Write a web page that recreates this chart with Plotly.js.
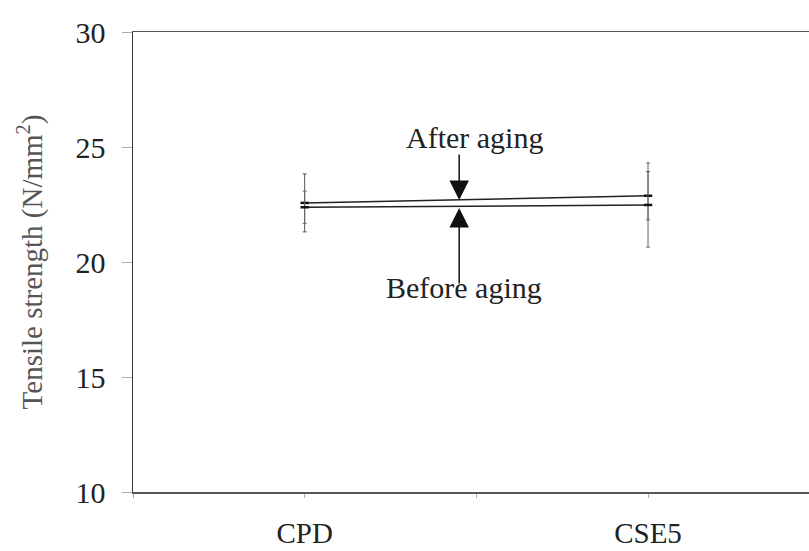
<!DOCTYPE html>
<html>
<head>
<meta charset="utf-8">
<script src="https://cdn.plot.ly/plotly-3.0.1.min.js"></script>
<style>
html,body{margin:0;padding:0;overflow:hidden;background:#fff;width:809px;height:551px;}
#chart{width:830px;height:551px;}
</style>
</head>
<body>
<div id="chart"></div>
<script>
// Data
const categories = ["CPD", "CSE5"];
const categoryPos = [1, 3];
const afterAging = [22.57, 22.88];
const afterErr = [1.26, 1.05];
const beforeAging = [22.38, 22.48];
const beforeErr = [0.7, 1.83];
const yTicks = [10, 15, 20, 25, 30];
const xTickVals = [0, 1, 2, 3, 4];
const xTickText = ["", categories[0], "", categories[1], ""];

const serif = "Liberation Serif, Times New Roman, serif";

const traces = [
  {
    x: categoryPos, y: afterAging, name: "After aging", type: "scatter", mode: "lines+markers",
    line: {color: "#222", width: 1.5},
    marker: {symbol: "line-ew", size: 6, line: {color: "#111", width: 2.5}},
    error_y: {type: "data", array: afterErr, visible: true, color: "#555", thickness: 1, width: 2}
  },
  {
    x: categoryPos, y: beforeAging, name: "Before aging", type: "scatter", mode: "lines+markers",
    line: {color: "#222", width: 1.5},
    marker: {symbol: "line-ew", size: 6, line: {color: "#111", width: 2.5}},
    error_y: {type: "data", array: beforeErr, visible: true, color: "#666", thickness: 1, width: 2}
  }
];

const layout = {
  width: 830, height: 551,
  margin: {l: 133, r: 0, t: 32, b: 59},
  paper_bgcolor: "#fff", plot_bgcolor: "#fff",
  showlegend: false,
  font: {family: serif, size: 30, color: "#222"},
  xaxis: {
    range: [0, 4.06], tickmode: "array", tickvals: xTickVals, ticktext: xTickText,
    showgrid: false, zeroline: false,
    showline: true, linecolor: "#555", linewidth: 1.5, mirror: true,
    ticks: "outside", ticklen: 4, tickcolor: "#aaa", tickwidth: 1,
    ticklabelstandoff: 11,
    tickfont: {family: serif, size: 29, color: "#222"}
  },
  yaxis: {
    range: [10, 30], tickmode: "array", tickvals: yTicks,
    showgrid: false, zeroline: false,
    showline: true, linecolor: "#333", linewidth: 1.5,
    ticks: "outside", ticklen: 10, tickcolor: "#aaa", tickwidth: 1,
    ticklabelstandoff: 10,
    tickfont: {family: serif, size: 30, color: "#222"},
    title: {text: "Tensile strength (N/mm<sup>2</sup>)", font: {family: serif, size: 29, color: "#555"}, standoff: 24}
  },
  annotations: [
    {x: 1.99, y: 25.43, xref: "x", yref: "y", text: "After aging", showarrow: false,
     font: {family: serif, size: 30, color: "#222"}},
    {x: 1.9, y: 22.70, xref: "x", yref: "y", text: "", showarrow: true, ax: 0, ay: -47,
     arrowhead: 2, arrowsize: 2.6, arrowwidth: 1.5, arrowcolor: "#111"},
    {x: 1.93, y: 18.91, xref: "x", yref: "y", text: "Before aging", showarrow: false,
     font: {family: serif, size: 30, color: "#222"}},
    {x: 1.9, y: 22.35, xref: "x", yref: "y", text: "", showarrow: true, ax: 0, ay: 77,
     arrowhead: 2, arrowsize: 2.6, arrowwidth: 1.5, arrowcolor: "#111"}
  ]
};

Plotly.newPlot("chart", traces, layout, {displayModeBar: false, staticPlot: true});
</script>
</body>
</html>
